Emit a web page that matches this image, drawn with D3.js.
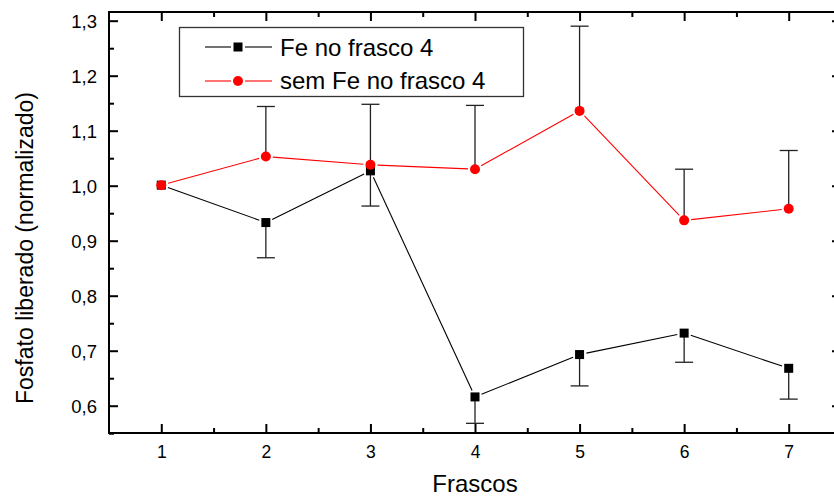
<!DOCTYPE html>
<html>
<head>
<meta charset="utf-8">
<script src="https://cdn.jsdelivr.net/npm/d3@7"></script>
<style>
  html, body { margin: 0; padding: 0; background: #fff; }
  svg { display: block; font-family: "Liberation Sans", Arial, sans-serif; }
</style>
</head>
<body>
<svg id="chart" width="834" height="497"></svg>
<script>
// Frascos (flask index)
const frascos = [1, 2, 3, 4, 5, 6, 7];

// Series: released phosphate, normalized
const feValues = [1.001, 0.933, 1.027, 0.616, 0.693, 0.732, 0.668];
const feErrors = [0, 0.064, 0.064, 0.048, 0.057, 0.053, 0.056];
const semFeValues = [1.001, 1.053, 1.038, 1.030, 1.136, 0.937, 0.958];
const semFeErrors = [0, 0.091, 0.110, 0.116, 0.154, 0.093, 0.106];

const seriesNames = ["Fe no frasco 4", "sem Fe no frasco 4"];

const yTicks = [0.6, 0.7, 0.8, 0.9, 1.0, 1.1, 1.2, 1.3];
const yMinorTicks = [0.55, 0.65, 0.75, 0.85, 0.95, 1.05, 1.15, 1.25];
const xMinorTicks = [1.5, 2.5, 3.5, 4.5, 5.5, 6.5];

const svg = d3.select("#chart");
const plotLeft = 109, plotRight = 841, plotTop = 12, plotBottom = 433;

const x = d3.scaleLinear().domain([0.5, 7.5]).range([plotLeft, plotRight]);
const y = d3.scaleLinear().domain([0.5504, 1.3158]).range([plotBottom, plotTop]);
const fmt = v => d3.format(".1f")(v).replace(".", ",");

// Frame
svg.append("rect")
  .attr("x", plotLeft).attr("y", plotTop)
  .attr("width", plotRight - plotLeft).attr("height", plotBottom - plotTop)
  .attr("fill", "none").attr("stroke", "#000").attr("stroke-width", 2);

// Axes with inward ticks
const axisStyle = g => {
  g.select(".domain").remove();
  g.selectAll(".tick line").attr("stroke", "#000").attr("stroke-width", 2);
};
svg.append("g").attr("transform", `translate(0,${plotBottom})`)
  .call(d3.axisBottom(x).tickValues(frascos).tickSizeInner(-9).tickSizeOuter(0).tickPadding(13).tickFormat(d3.format("d")))
  .call(axisStyle)
  .call(g => g.selectAll("text").attr("font-size", 17.5).attr("fill", "#000"));
svg.append("g").attr("transform", `translate(0,${plotBottom})`)
  .call(d3.axisBottom(x).tickValues(xMinorTicks).tickSizeInner(-5).tickSizeOuter(0).tickFormat(""))
  .call(axisStyle);
svg.append("g").attr("transform", `translate(0,${plotTop})`)
  .call(d3.axisTop(x).tickValues(frascos).tickSizeInner(-9).tickSizeOuter(0).tickFormat(""))
  .call(axisStyle);
svg.append("g").attr("transform", `translate(0,${plotTop})`)
  .call(d3.axisTop(x).tickValues(xMinorTicks).tickSizeInner(-5).tickSizeOuter(0).tickFormat(""))
  .call(axisStyle);

svg.append("g").attr("transform", `translate(${plotLeft},0)`)
  .call(d3.axisLeft(y).tickValues(yTicks).tickSizeInner(-9).tickSizeOuter(0).tickPadding(12).tickFormat(fmt))
  .call(axisStyle)
  .call(g => g.selectAll("text").attr("font-size", 18.5).attr("fill", "#000").attr("dy", "0.36em"));
svg.append("g").attr("transform", `translate(${plotLeft},0)`)
  .call(d3.axisLeft(y).tickValues(yMinorTicks).tickSizeInner(-5).tickSizeOuter(0).tickFormat(""))
  .call(axisStyle);
svg.append("g").attr("transform", `translate(${plotRight},0)`)
  .call(d3.axisRight(y).tickValues(yTicks).tickSizeInner(-9).tickSizeOuter(0).tickFormat(""))
  .call(axisStyle);
svg.append("g").attr("transform", `translate(${plotRight},0)`)
  .call(d3.axisRight(y).tickValues(yMinorTicks).tickSizeInner(-5).tickSizeOuter(0).tickFormat(""))
  .call(axisStyle);

// Axis titles
svg.append("text")
  .attr("x", x(4)).attr("y", 492)
  .attr("text-anchor", "middle").attr("font-size", 24).attr("fill", "#000")
  .text("Frascos");
svg.append("text")
  .attr("transform", `translate(33,248) rotate(-90)`)
  .attr("text-anchor", "middle").attr("font-size", 23).attr("fill", "#000")
  .text("Fosfato liberado (normalizado)");

// Connecting lines, with a small gap at each marker
function drawLine(values, color, gap) {
  const pts = frascos.map((f, i) => [x(f), y(values[i])]);
  const segs = d3.pairs(pts).map(([a, b]) => {
    const dx = b[0] - a[0], dy = b[1] - a[1];
    const len = Math.hypot(dx, dy);
    const ux = dx / len, uy = dy / len;
    return [a[0] + ux * gap, a[1] + uy * gap, b[0] - ux * gap, b[1] - uy * gap];
  });
  svg.append("g").selectAll("line").data(segs).join("line")
    .attr("x1", d => d[0]).attr("y1", d => d[1])
    .attr("x2", d => d[2]).attr("y2", d => d[3])
    .attr("stroke", color).attr("stroke-width", 1.1);
}

// Error bars: one-sided (down for Fe, up for sem Fe)
function drawErrors(values, errors, dir) {
  const g = svg.append("g").attr("stroke", "#222").attr("stroke-width", 1.3);
  frascos.forEach((f, i) => {
    if (!errors[i]) return;
    const cx = x(f), y0 = y(values[i]), y1 = y(values[i] + dir * errors[i]);
    g.append("line").attr("x1", cx).attr("x2", cx).attr("y1", y0).attr("y2", y1);
    g.append("line").attr("x1", cx - 9).attr("x2", cx + 9).attr("y1", y1).attr("y2", y1);
  });
}

drawErrors(feValues, feErrors, -1);
drawErrors(semFeValues, semFeErrors, 1);
drawLine(feValues, "#000", 7);
drawLine(semFeValues, "#ff0000", 7);

// Markers
svg.append("g").selectAll("rect").data(frascos).join("rect")
  .attr("x", d => x(d) - 4.5).attr("y", (d, i) => y(feValues[i]) - 4.5)
  .attr("width", 9).attr("height", 9).attr("fill", "#000");
svg.append("g").selectAll("circle").data(frascos).join("circle")
  .attr("cx", d => x(d)).attr("cy", (d, i) => y(semFeValues[i]))
  .attr("r", 5).attr("fill", "#ff0000");

// Legend
const legend = svg.append("g");
legend.append("rect")
  .attr("x", 179.5).attr("y", 27.5).attr("width", 344).attr("height", 69)
  .attr("fill", "#fff").attr("stroke", "#333").attr("stroke-width", 1.3);
const rows = [
  { name: seriesNames[0], color: "#000", y: 47, base: 56, shape: "square" },
  { name: seriesNames[1], color: "#ff0000", y: 81, base: 88.5, shape: "circle" }
];
rows.forEach(r => {
  legend.append("line").attr("x1", 205).attr("x2", 231).attr("y1", r.y).attr("y2", r.y)
    .attr("stroke", r.color).attr("stroke-width", 1.1);
  legend.append("line").attr("x1", 245).attr("x2", 272).attr("y1", r.y).attr("y2", r.y)
    .attr("stroke", r.color).attr("stroke-width", 1.1);
  if (r.shape === "square") {
    legend.append("rect").attr("x", 238 - 4.5).attr("y", r.y - 4.5).attr("width", 9).attr("height", 9).attr("fill", r.color);
  } else {
    legend.append("circle").attr("cx", 238).attr("cy", r.y).attr("r", 5).attr("fill", r.color);
  }
  legend.append("text").attr("x", 280).attr("y", r.base)
    .attr("font-size", 24).attr("fill", "#000").text(r.name);
});
</script>
</body>
</html>
